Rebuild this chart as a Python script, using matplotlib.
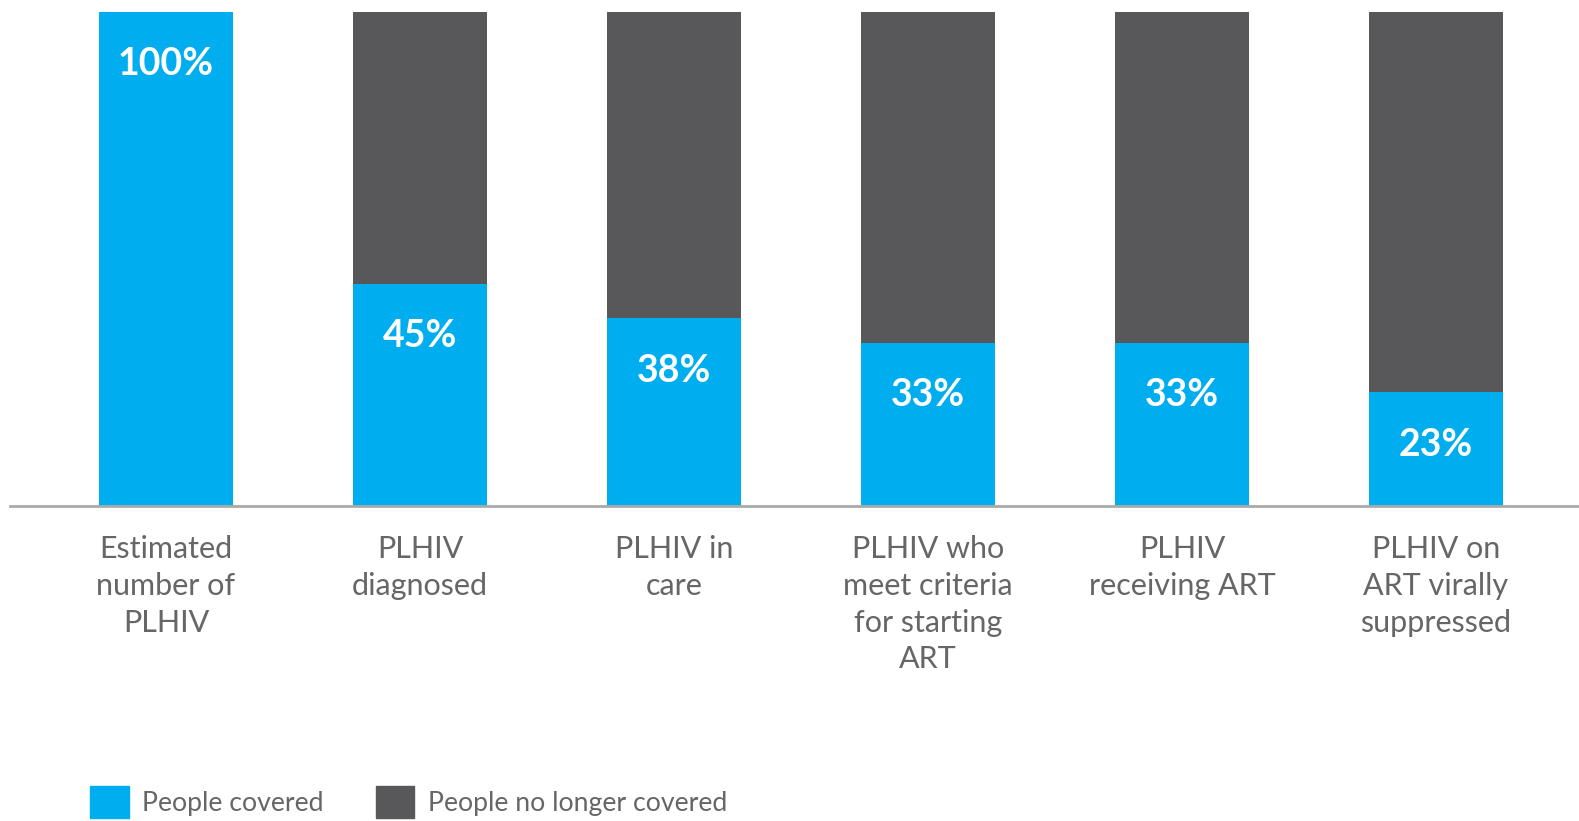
import numpy as np
import matplotlib
matplotlib.use("Agg")
import matplotlib.pyplot as plt
from matplotlib.patches import Patch

# ----- DATA -----
categories = [
    "Estimated\nnumber of\nPLHIV",
    "PLHIV\ndiagnosed",
    "PLHIV in\ncare",
    "PLHIV who\nmeet criteria\nfor starting\nART",
    "PLHIV\nreceiving ART",
    "PLHIV on\nART virally\nsuppressed",
]
covered = [100, 45, 38, 33, 33, 23]
not_covered = [100 - v for v in covered]
value_labels = ["100%", "45%", "38%", "33%", "33%", "23%"]
legend_labels = ["People covered", "People no longer covered"]

# ----- STYLE -----
BLUE = "#00AEEF"
GREY = "#58585A"
TEXT = "#666666"
plt.rcParams["font.family"] = ["Lato", "DejaVu Sans"]

fig = plt.figure(figsize=(15.79, 8.21), dpi=100)
ax = fig.add_axes([10 / 1579, 315 / 821, 1569 / 1579, 494 / 821])

x = np.arange(len(categories))
width = 0.524
ax.bar(x, covered, width, color=BLUE, zorder=2)
ax.bar(x, not_covered, width, bottom=covered, color=GREY, zorder=2)

# percentage labels inside the blue part
for xi, v, lab in zip(x, covered, value_labels):
    ax.text(xi, v - 10.6, lab, ha="center", va="center", color="white",
            fontsize=27, fontweight="bold", zorder=3)

ax.set_xlim(-0.614, 5.563)
ax.set_ylim(0, 100)
ax.set_yticks([])
ax.set_xticks(x)
ax.set_xticklabels(categories, fontsize=22, color=TEXT, linespacing=1.38)
ax.tick_params(axis="x", length=0, pad=21)
for s in ["top", "right", "left"]:
    ax.spines[s].set_visible(False)
ax.spines["bottom"].set_color("#AAAAAA")
ax.spines["bottom"].set_linewidth(2)
ax.spines["bottom"].set_zorder(3)

handles = [Patch(color=BLUE), Patch(color=GREY)]
leg = fig.legend(handles, legend_labels, loc="upper left",
                 bbox_to_anchor=(90 / 1579, 1 - 786 / 821), ncol=2,
                 frameon=False, borderpad=0, borderaxespad=0,
                 prop={"size": 19.2},
                 handlelength=1.45, handleheight=1.45, handletextpad=0.5,
                 columnspacing=1.95)
for t in leg.get_texts():
    t.set_color(TEXT)

plt.savefig("out.png", dpi=100)
